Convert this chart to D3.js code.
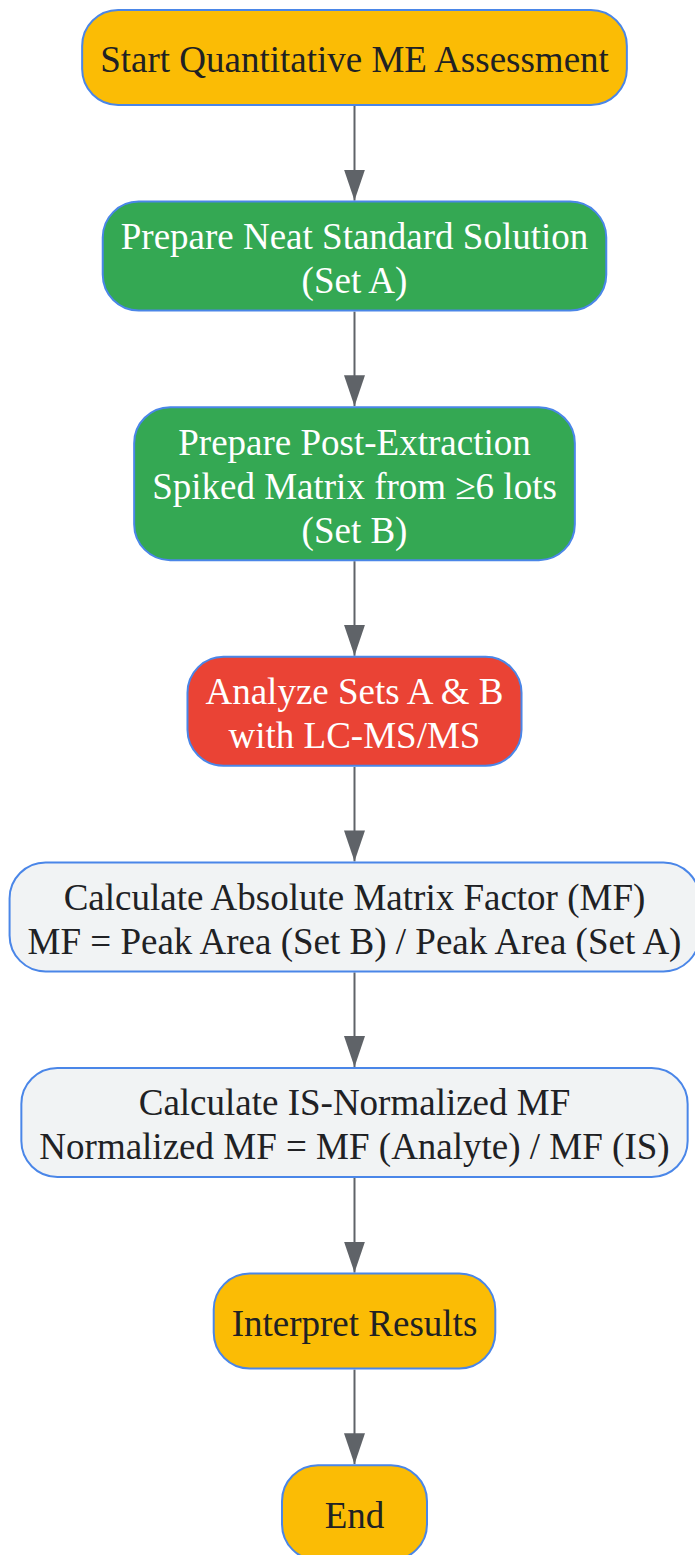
<!DOCTYPE html>
<html>
<head>
<meta charset="utf-8">
<script src="https://cdn.jsdelivr.net/npm/d3@7"></script>
<style>
  body { margin: 0; background: #fff; }
  svg { display: block; }
</style>
</head>
<body>
<script>
var width = 695,
    height = 1555;

// node labels, one entry per line
var labels = [
  ["Start Quantitative ME Assessment"],
  ["Prepare Neat Standard Solution", "(Set A)"],
  ["Prepare Post-Extraction", "Spiked Matrix from \u22656 lots", "(Set B)"],
  ["Analyze Sets A & B", "with LC-MS/MS"],
  ["Calculate Absolute Matrix Factor (MF)", "MF = Peak Area (Set B) / Peak Area (Set A)"],
  ["Calculate IS-Normalized MF", "Normalized MF = MF (Analyte) / MF (IS)"],
  ["Interpret Results"],
  ["End"]
];
var kinds = ["terminal", "prep", "prep", "analyze", "calc", "calc", "terminal", "terminal"];

var fills = {terminal: "#fbbc05", prep: "#34a853", analyze: "#ea4335", calc: "#f1f3f4"};
var textFills = {terminal: "#202124", prep: "#ffffff", analyze: "#ffffff", calc: "#202124"};

var fontSize = 37,
    lineH = 44,
    gap = 96.6,
    padX = 18,
    minW = 145,
    minH = 95,
    cx = 354.5;

var svg = d3.select("body").append("svg")
  .attr("width", width)
  .attr("height", height);

svg.append("defs").append("marker")
  .attr("id", "arrow")
  .attr("viewBox", "0 0 31 21")
  .attr("refX", 31)
  .attr("refY", 10.5)
  .attr("markerWidth", 31)
  .attr("markerHeight", 21)
  .attr("markerUnits", "userSpaceOnUse")
  .attr("orient", "auto")
  .append("path")
  .attr("d", "M0,0L31,10.5L0,21Z")
  .attr("fill", "#5f6368");

// layout: stack nodes top to bottom
var nodes = [], y = 10;
labels.forEach(function(lines, i) {
  var h = Math.max(minH, lines.length * lineH + 21);
  nodes.push({lines: lines, kind: kinds[i], y: y, h: h});
  y += h + gap;
});

var edgeG = svg.append("g");
var nodeG = svg.selectAll("g.node").data(nodes).enter()
  .append("g").attr("class", "node");

var rects = nodeG.append("rect")
  .attr("rx", 36).attr("ry", 36)
  .attr("y", function(d){ return d.y; })
  .attr("height", function(d){ return d.h; })
  .attr("fill", function(d){ return fills[d.kind]; })
  .attr("stroke", "#4a86e8")
  .attr("stroke-width", 2);

nodeG.each(function(d) {
  var g = d3.select(this);
  var top = d.y + d.h / 2 - (d.lines.length - 1) * lineH / 2;
  var maxW = 0;
  d.lines.forEach(function(t, j) {
    var tx = g.append("text")
      .attr("x", cx)
      .attr("y", top + j * lineH)
      .attr("dy", "0.4em")
      .attr("text-anchor", "middle")
      .attr("font-family", "'Liberation Serif', 'Times New Roman', serif")
      .attr("font-size", fontSize)
      .attr("fill", textFills[d.kind])
      .text(t);
    maxW = Math.max(maxW, tx.node().getComputedTextLength());
  });
  d.w = Math.max(minW, maxW + 2 * padX);
});

rects.attr("x", function(d){ return cx - d.w / 2; })
  .attr("width", function(d){ return d.w; });

nodes.slice(1).forEach(function(d, i) {
  var prev = nodes[i];
  edgeG.append("line")
    .attr("x1", cx).attr("x2", cx)
    .attr("y1", prev.y + prev.h + 1)
    .attr("y2", d.y - 1)
    .attr("stroke", "#5f6368")
    .attr("stroke-width", 2)
    .attr("marker-end", "url(#arrow)");
});
</script>
</body>
</html>
